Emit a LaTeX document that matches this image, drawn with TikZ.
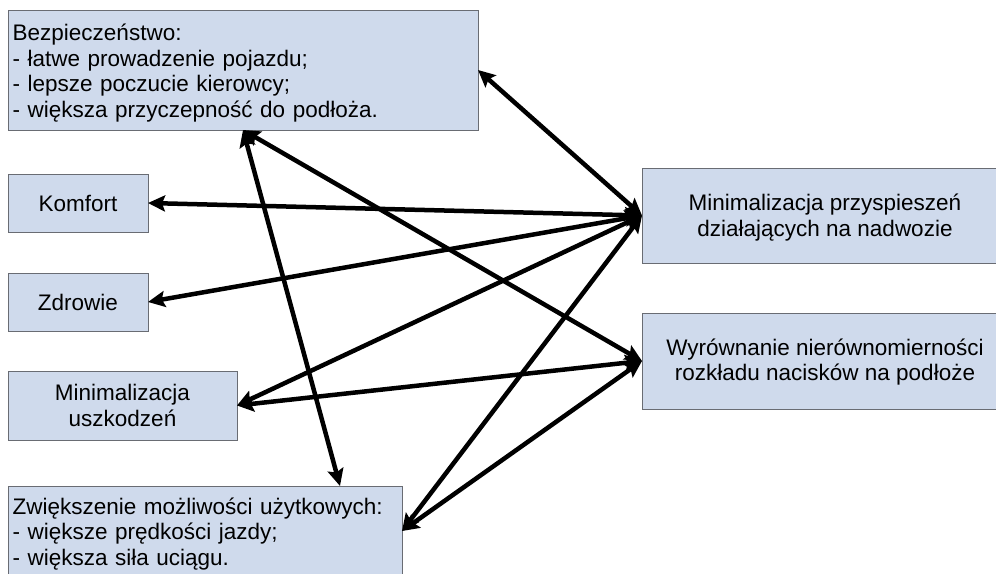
\documentclass[tikz,border=0pt]{standalone}
\usepackage{fontspec}
\setmainfont{Liberation Sans}
\usetikzlibrary{arrows.meta,calc}
\definecolor{boxfill}{RGB}{207,218,236}
\definecolor{boxline}{RGB}{105,108,115}
\begin{document}
\begin{tikzpicture}[x=1pt,y=-1pt,
  box/.style={draw=boxline, line width=1pt, fill=boxfill, inner xsep=5pt, inner ysep=0pt, outer sep=0pt, anchor=north west,
    font=\fontsize{22.5}{25.5}\selectfont},
  txt/.style={inner sep=0pt, font=\fontsize{22.5}{25.5}\selectfont},
  tip/.tip={Stealth[length=17pt,width=16pt,inset=3pt]},
  link/.style={line width=4.5pt, tip-tip}]
\useasboundingbox (0,0) rectangle (996,573);
\begin{scope}
\clip (0,0) rectangle (996,573);
\node[box, minimum width=470pt, minimum height=120pt] (bez) at (8,10) {};
\node[txt, text width=460pt, align=left, anchor=west] (beztxt) at ([xshift=4.5pt,yshift=-3pt]bez.west)
  {Bezpieczeństwo:\\- łatwe prowadzenie pojazdu;\\- lepsze poczucie kierowcy;\\- większa przyczepność do podłoża.};
\node[box, minimum width=140pt, minimum height=58pt, align=center] (kom) at (8,174) {Komfort};
\node[box, minimum width=140pt, minimum height=58pt, align=center] (zdr) at (8,273) {Zdrowie};
\node[box, minimum width=229pt, minimum height=69pt, align=center] (usz) at (8,371) {Minimalizacja\\uszkodzeń};
\node[box, minimum width=394pt, minimum height=90pt] (zwi) at (8,486) {};
\node[txt, text width=384pt, align=left, anchor=west] (zwitxt) at ([xshift=4.5pt,yshift=-3pt]zwi.west)
  {Zwiększenie możliwości użytkowych:\\- większe prędkości jazdy;\\- większa siła uciągu.};
\node[box, minimum width=366pt, minimum height=95pt] (mp) at (642,168) {};
\node[txt, align=center] (mptxt) at ([yshift=-2pt]mp.center)
  {Minimalizacja przyspieszeń\\działających na nadwozie};
\node[box, minimum width=366pt, minimum height=96pt] (wyr) at (642,313) {};
\node[txt, align=center] (wyrtxt) at ([yshift=-1pt]wyr.center)
  {Wyrównanie nierównomierności\\rozkładu nacisków na podłoże};
\end{scope}
\coordinate (zwitop) at ([xshift=-62pt]zwi.north east);
\draw[link] (bez.east) -- (mp.west);
\draw[link] (kom.east) -- (mp.west);
\draw[link] (zdr.east) -- (mp.west);
\draw[link] (usz.east) -- (mp.west);
\draw[link] (usz.east) -- (wyr.west);
\draw[link] (bez.south) -- (wyr.west);
\draw[link] (bez.south) -- (zwitop);
\draw[link] (zwi.east) -- (mp.west);
\draw[link] (zwi.east) -- (wyr.west);
\end{tikzpicture}
\end{document}
